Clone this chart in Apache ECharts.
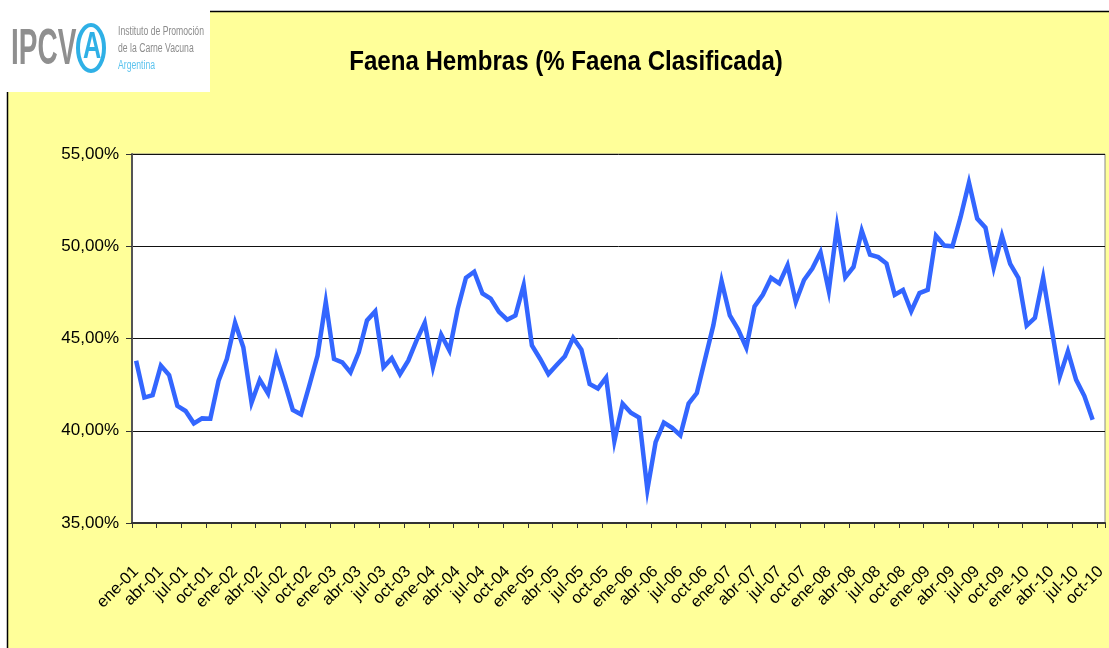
<!DOCTYPE html>
<html>
<head>
<meta charset="utf-8">
<script src="https://cdn.jsdelivr.net/npm/echarts@6/dist/echarts.min.js"></script>
<style>
html,body{margin:0;padding:0;background:#ffffff;}
#chart{width:1109px;height:648px;}
</style>
</head>
<body>
<div id="chart"></div>
<script>
// ---- data ----
const months = ['ene','feb','mar','abr','may','jun','jul','ago','sep','oct','nov','dic'];
const years = ['01','02','03','04','05','06','07','08','09','10'];
const lastMonthIndex = 9; // oct-10 is the last category
const categories = [];
years.forEach(function (y, yi) {
  months.forEach(function (m, mi) {
    if (yi === years.length - 1 && mi > lastMonthIndex) return;
    categories.push(m + '-' + y);
  });
});
// % of classified slaughter that were females (ene-01 .. sep-10)
const faenaHembras = [
  43.80, 41.80, 41.93, 43.53, 43.02, 41.35, 41.07, 40.40, 40.67, 40.65, 42.71, 43.89,
  45.85, 44.53, 41.53, 42.76, 42.02, 44.04, 42.62, 41.13, 40.89, 42.44, 44.07, 46.98,
  43.89, 43.71, 43.16, 44.25, 45.98, 46.47, 43.44, 43.93, 43.07, 43.80, 44.89, 45.85,
  43.44, 45.20, 44.35, 46.60, 48.29, 48.62, 47.44, 47.16, 46.44, 46.02, 46.25, 47.89,
  44.62, 43.89, 43.07, 43.56, 44.04, 45.04, 44.40, 42.53, 42.29, 42.89, 39.44, 41.47,
  40.98, 40.71, 36.80, 39.38, 40.44, 40.16, 39.75, 41.47, 42.04, 43.89, 45.71, 48.11,
  46.25, 45.50, 44.50, 46.74, 47.37, 48.29, 47.99, 48.97, 46.98, 48.17, 48.79, 49.68,
  47.58, 51.07, 48.31, 48.88, 50.84, 49.54, 49.41, 49.06, 47.37, 47.63, 46.48, 47.46,
  47.63, 50.57, 50.04, 50.00, 51.60, 53.45, 51.50, 51.01, 48.83, 50.57, 49.04, 48.28,
  45.70, 46.12, 48.30, 45.60, 42.92, 44.30, 42.76, 41.88, 40.60
];
const yTicks = [35, 40, 45, 50, 55];
const titleText = 'Faena Hembras (% Faena Clasificada)';
const logoMark = 'IPCV';
const logoLines = ['Instituto de Promoción', 'de la Carne Vacuna', 'Argentina'];

const SANS = "'Liberation Sans',Arial,Helvetica,sans-serif";

const chart = echarts.init(document.getElementById('chart'), null, {renderer: 'canvas'});
chart.setOption({
  animation: false,
  backgroundColor: '#ffffff',
  graphic: [
    {type: 'rect', z: -10, silent: true,
     shape: {x: 7.5, y: 11.5, width: 1200, height: 700},
     style: {fill: '#FFFF99', stroke: '#000', lineWidth: 1.5}},
    {type: 'rect', z: 5, silent: true,
     shape: {x: 0, y: 0, width: 210, height: 92},
     style: {fill: '#ffffff'}},
    // title (narrow bold look)
    {type: 'text', z: 6, x: 566, y: 62, scaleX: 0.86,
     style: {text: titleText, fontFamily: SANS, fontWeight: 'bold', fontSize: 28,
             fill: '#000', textAlign: 'center', textVerticalAlign: 'middle'}},
    // logo
    {type: 'text', z: 6, x: 11, y: 25, scaleX: 0.56,
     style: {text: logoMark, fontFamily: SANS, fontWeight: 'bold', fontSize: 50, fill: '#8f8f8f'}},
    {type: 'ellipse', z: 6, shape: {cx: 91, cy: 48, rx: 13, ry: 23},
     style: {fill: '#ffffff', stroke: '#2fb0e6', lineWidth: 4}},
    {type: 'text', z: 7, x: 83, y: 30, scaleX: 0.7,
     style: {text: 'A', fontFamily: SANS, fontWeight: 'bold', fontSize: 36, fill: '#2fb0e6'}},
    {type: 'text', z: 6, x: 118, y: 26, scaleX: 0.72,
     style: {text: logoLines[0], fontFamily: SANS, fontSize: 12, fill: '#8c8c8c'}},
    {type: 'text', z: 6, x: 118, y: 43, scaleX: 0.72,
     style: {text: logoLines[1], fontFamily: SANS, fontSize: 12, fill: '#8c8c8c'}},
    {type: 'text', z: 6, x: 118, y: 60, scaleX: 0.72,
     style: {text: logoLines[2], fontFamily: SANS, fontSize: 12, fill: '#5cc3ee'}}
  ],
  grid: {
    left: 132, right: 1, top: 154, bottom: 125,
    show: true, backgroundColor: '#ffffff', borderColor: '#888888', borderWidth: 1
  },
  xAxis: {
    type: 'category',
    data: categories,
    boundaryGap: true,
    axisLine: {show: true, lineStyle: {color: '#333', width: 2}},
    axisTick: {show: true, interval: 2, length: 5, lineStyle: {color: '#333', width: 1}},
    axisLabel: {
      interval: 2, rotate: 45, margin: 46,
      showMinLabel: true, showMaxLabel: true, hideOverlap: false,
      fontFamily: SANS, fontSize: 16.5, color: '#000'
    },
    splitLine: {show: false}
  },
  yAxis: {
    type: 'value',
    min: yTicks[0], max: yTicks[yTicks.length - 1], interval: 5,
    axisLine: {show: true, lineStyle: {color: '#555', width: 2}},
    axisTick: {show: true, inside: false, length: 6, lineStyle: {color: '#333'}},
    axisLabel: {
      margin: 13, fontFamily: SANS, fontSize: 17, color: '#000',
      formatter: function (v) { return v.toFixed(2).replace('.', ',') + '%'; }
    },
    splitLine: {show: true, lineStyle: {color: '#111', width: 1}}
  },
  series: [{
    type: 'line',
    data: faenaHembras,
    symbol: 'none',
    lineStyle: {color: '#3366FF', width: 4.5, join: 'miter'},
    z: 3
  }]
});
</script>
</body>
</html>
